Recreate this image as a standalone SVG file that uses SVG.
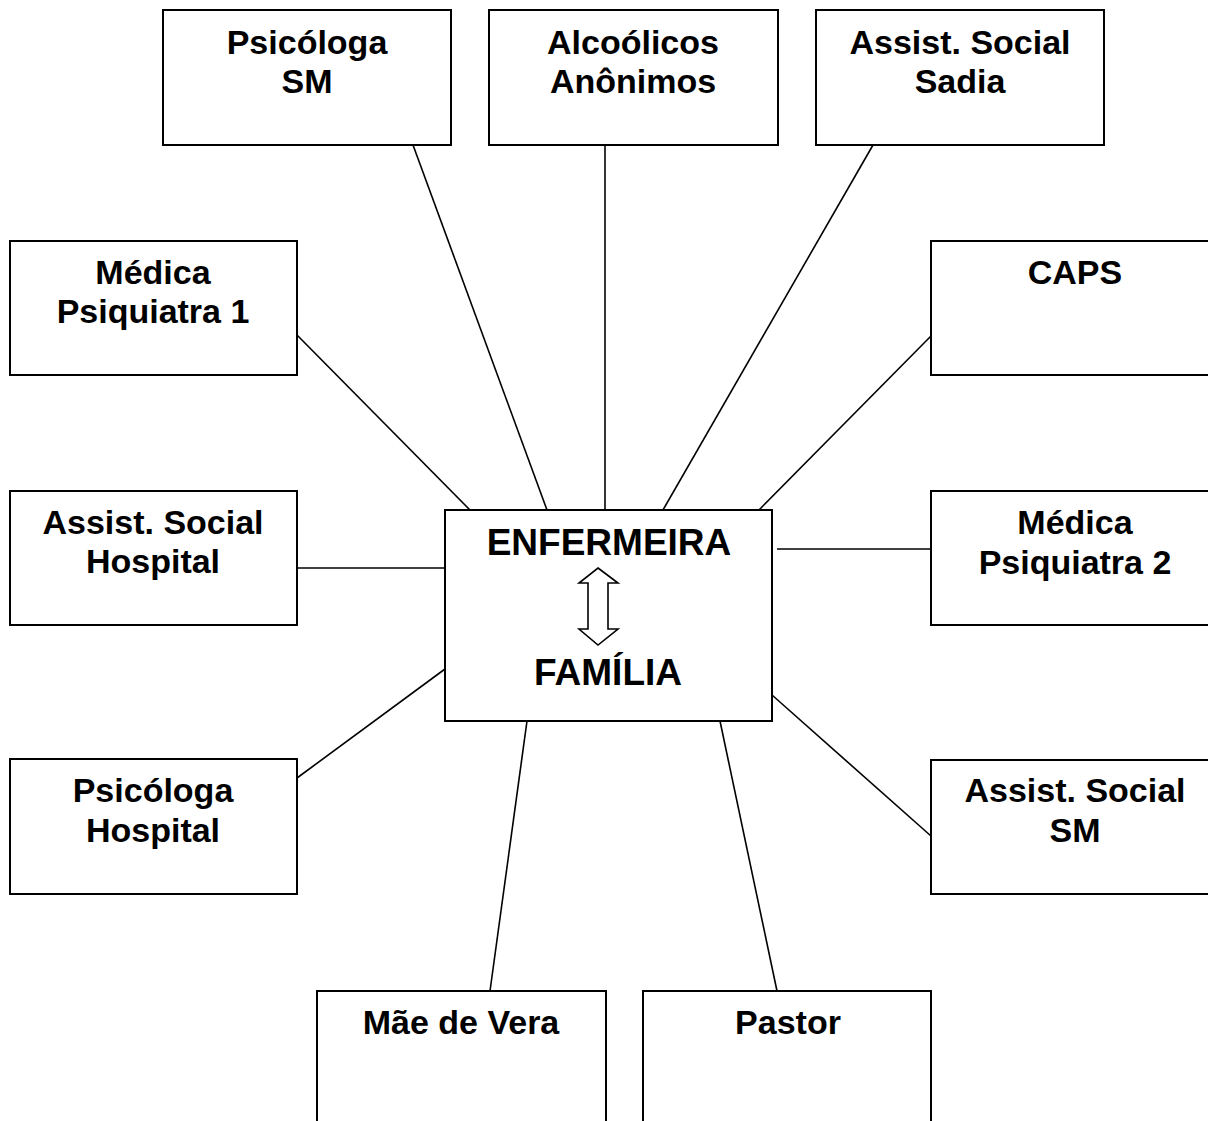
<svg xmlns="http://www.w3.org/2000/svg" width="1208" height="1121" viewBox="0 0 1208 1121">
  <style>
    .box { fill: #ffffff; stroke: #000000; stroke-width: 2; }
    .lbl { font-family: "Liberation Sans", Arial, Helvetica, sans-serif; font-weight: bold; font-size: 34px; fill: #000000; text-anchor: middle; }
    .big { font-size: 37px; }
    .link { stroke: #000000; stroke-width: 1.6; fill: none; }
    .dbl { fill: #ffffff; stroke: #000000; stroke-width: 1.6; stroke-linejoin: miter; }
  </style>
  <rect x="0" y="0" width="1208" height="1121" fill="#ffffff"/>

  <!-- connectors from the central box to each contact -->
  <g id="connectors">
    <line class="link" x1="413" y1="145" x2="547" y2="510"/>
    <line class="link" x1="605" y1="145" x2="605" y2="510"/>
    <line class="link" x1="873" y1="145" x2="663" y2="510"/>
    <line class="link" x1="297" y1="335" x2="470" y2="510"/>
    <line class="link" x1="931" y1="336" x2="759" y2="510"/>
    <line class="link" x1="297" y1="568" x2="445" y2="568"/>
    <line class="link" x1="777" y1="549" x2="931" y2="549"/>
    <line class="link" x1="297" y1="778" x2="445" y2="669"/>
    <line class="link" x1="772" y1="695" x2="931" y2="836"/>
    <line class="link" x1="527" y1="721" x2="490" y2="991"/>
    <line class="link" x1="720" y1="721" x2="777" y2="991"/>
  </g>

  <!-- top row -->
  <g id="psicologa-sm">
    <rect class="box" x="163" y="10" width="288" height="135"/>
    <text class="lbl" x="307" y="54">Psicóloga</text>
    <text class="lbl" x="307" y="93">SM</text>
  </g>
  <g id="alcoolicos-anonimos">
    <rect class="box" x="489" y="10" width="289" height="135"/>
    <text class="lbl" x="633" y="54">Alcoólicos</text>
    <text class="lbl" x="633" y="93">Anônimos</text>
  </g>
  <g id="assist-social-sadia">
    <rect class="box" x="816" y="10" width="288" height="135"/>
    <text class="lbl" x="960" y="54">Assist. Social</text>
    <text class="lbl" x="960" y="93">Sadia</text>
  </g>

  <!-- left column -->
  <g id="medica-psiquiatra-1">
    <rect class="box" x="10" y="241" width="287" height="134"/>
    <text class="lbl" x="153" y="284">Médica</text>
    <text class="lbl" x="153" y="323">Psiquiatra 1</text>
  </g>
  <g id="assist-social-hospital">
    <rect class="box" x="10" y="491" width="287" height="134"/>
    <text class="lbl" x="153" y="534">Assist. Social</text>
    <text class="lbl" x="153" y="573">Hospital</text>
  </g>
  <g id="psicologa-hospital">
    <rect class="box" x="10" y="759" width="287" height="135"/>
    <text class="lbl" x="153" y="802">Psicóloga</text>
    <text class="lbl" x="153" y="842">Hospital</text>
  </g>

  <!-- right column -->
  <g id="caps">
    <rect class="box" x="931" y="241" width="288" height="134"/>
    <text class="lbl" x="1075" y="284">CAPS</text>
  </g>
  <g id="medica-psiquiatra-2">
    <rect class="box" x="931" y="491" width="288" height="134"/>
    <text class="lbl" x="1075" y="534">Médica</text>
    <text class="lbl" x="1075" y="574">Psiquiatra 2</text>
  </g>
  <g id="assist-social-sm">
    <rect class="box" x="931" y="760" width="288" height="134"/>
    <text class="lbl" x="1075" y="802">Assist. Social</text>
    <text class="lbl" x="1075" y="842">SM</text>
  </g>

  <!-- bottom row -->
  <g id="mae-de-vera">
    <rect class="box" x="317" y="991" width="289" height="160"/>
    <text class="lbl" x="461" y="1034">Mãe de Vera</text>
  </g>
  <g id="pastor">
    <rect class="box" x="643" y="991" width="288" height="160"/>
    <text class="lbl" x="788" y="1034">Pastor</text>
  </g>

  <!-- central node -->
  <g id="enfermeira-familia">
    <rect class="box" x="445" y="510" width="327" height="211"/>
    <text class="lbl big" x="609" y="555">ENFERMEIRA</text>
    <polygon class="dbl" points="598,568 618,583 608,583 608,629 618,629 598,645 579,629 588,629 588,583 579,583"/>
    <text class="lbl big" x="608" y="685">FAMÍLIA</text>
  </g>
</svg>
